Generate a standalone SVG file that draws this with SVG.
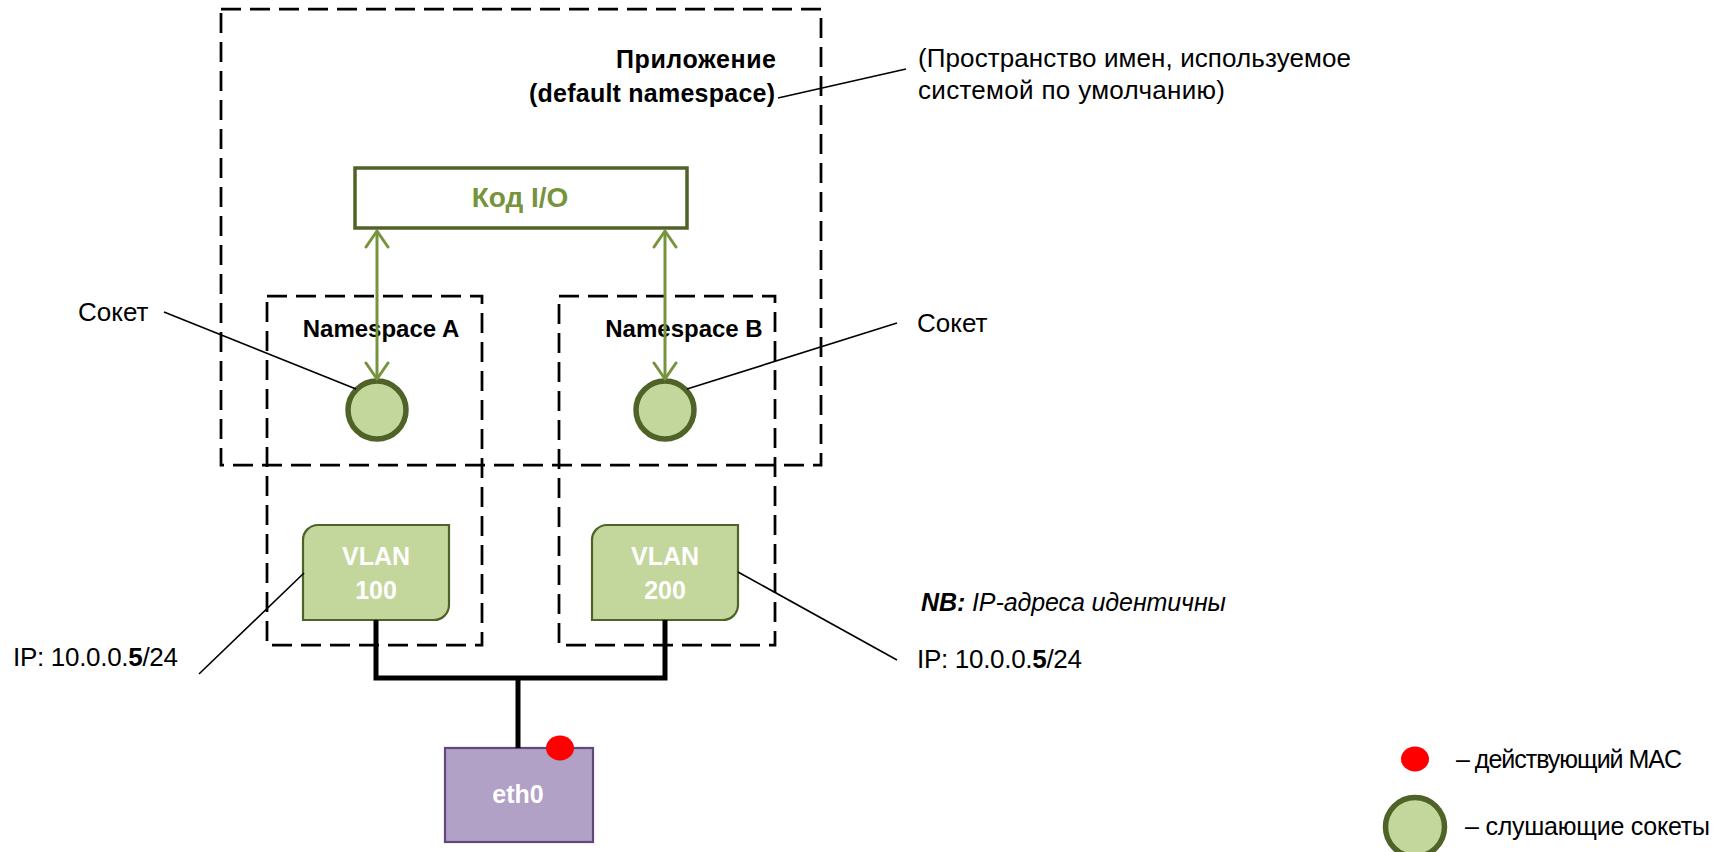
<svg xmlns="http://www.w3.org/2000/svg" width="1719" height="852" viewBox="0 0 1719 852">
  <style>
    text { font-family: "Liberation Sans", Arial, sans-serif; }
    .lbl { font-size: 26px; fill: #000; }
    .nsl { font-size: 24px; font-weight: bold; fill: #000; text-anchor: middle; }
    .bold { font-weight: bold; }
    .dash { fill: none; stroke: #000; stroke-width: 2.75; stroke-dasharray: 20 9; }
    .leader { fill: none; stroke: #000; stroke-width: 1.6; }
    .bus { fill: none; stroke: #000; stroke-width: 5; stroke-linejoin: miter; }
    .sock { fill: #C3D69B; stroke: #4F6228; stroke-width: 5.5; }
    .vlan { fill: #C3D69B; stroke: #4F6228; stroke-width: 2.2; }
    .wtxt { font-size: 25px; font-weight: bold; fill: #fff; text-anchor: middle; }
    .io { fill: none; stroke: #77933C; stroke-width: 3; marker-start: url(#vhead); marker-end: url(#vhead); }
  </style>
  <defs>
    <marker id="vhead" viewBox="0 0 20 26" refX="18" refY="13" markerWidth="20" markerHeight="26" markerUnits="userSpaceOnUse" orient="auto-start-reverse">
      <path d="M2,2 L18,13 L2,24" fill="none" stroke="#77933C" stroke-width="3" stroke-linecap="round" stroke-linejoin="round"/>
    </marker>
  </defs>

  <rect width="1719" height="852" fill="#fff"/>

  <!-- namespace containers -->
  <g id="ns-default">
    <rect class="dash" x="221" y="9" width="600" height="456"/>
    <text x="776" y="68" text-anchor="end" font-size="25" font-weight="bold" textLength="160">Приложение</text>
    <text x="775" y="102" text-anchor="end" font-size="25" font-weight="bold" textLength="246">(default namespace)</text>
  </g>
  <g id="ns-a">
    <rect class="dash" x="267" y="296" width="215" height="349"/>
    <text class="nsl" x="381" y="337">Namespace A</text>
  </g>
  <g id="ns-b">
    <rect class="dash" x="559" y="296" width="216" height="349"/>
    <text class="nsl" x="684" y="337">Namespace B</text>
  </g>

  <!-- application I/O code -->
  <g id="io-code">
    <rect x="355" y="168" width="332" height="60" fill="#fff" stroke="#4F6228" stroke-width="3.5"/>
    <text x="520" y="207" text-anchor="middle" font-size="28" font-weight="bold" fill="#77933C">Код I/O</text>
  </g>

  <!-- sockets -->
  <g id="socket-a"><circle class="sock" cx="377" cy="410" r="29"/></g>
  <g id="socket-b"><circle class="sock" cx="665" cy="410" r="29"/></g>

  <!-- VLAN interfaces -->
  <g id="vlan-100">
    <path class="vlan" d="M318,525 H449 V605 A15,15 0 0 1 434,620 H303 V540 A15,15 0 0 1 318,525 Z"/>
    <text class="wtxt" x="376" y="565">VLAN</text>
    <text class="wtxt" x="376" y="599">100</text>
  </g>
  <g id="vlan-200">
    <path class="vlan" d="M607,525 H738 V605 A15,15 0 0 1 723,620 H592 V540 A15,15 0 0 1 607,525 Z"/>
    <text class="wtxt" x="665" y="565">VLAN</text>
    <text class="wtxt" x="665" y="599">200</text>
  </g>

  <!-- physical interface -->
  <g id="eth0">
    <rect x="445" y="748" width="148" height="94" fill="#B2A1C7" stroke="#5F497A" stroke-width="2.2"/>
    <text class="wtxt" x="518" y="803">eth0</text>
    <ellipse cx="560" cy="748" rx="14" ry="12.5" fill="#FF0000"/>
  </g>

  <!-- connectors -->
  <g id="connectors">
    <line class="io" x1="377" y1="231" x2="377" y2="379"/>
    <line class="io" x1="665" y1="231" x2="665" y2="379"/>
    <path class="bus" d="M376,620 V678 H665 V620"/>
    <line class="bus" x1="518" y1="678" x2="518" y2="748"/>
  </g>

  <!-- callouts -->
  <g id="callouts">
    <line class="leader" x1="778" y1="98" x2="906" y2="69"/>
    <text class="lbl" x="918" y="67" textLength="433">(Пространство имен, используемое</text>
    <text class="lbl" x="918" y="99" textLength="307">системой по умолчанию)</text>

    <line class="leader" x1="164" y1="312" x2="356" y2="389"/>
    <text class="lbl" x="78" y="321">Сокет</text>

    <line class="leader" x1="897" y1="323" x2="687" y2="389"/>
    <text class="lbl" x="917" y="332">Сокет</text>

    <line class="leader" x1="199" y1="674" x2="304" y2="573"/>
    <text class="lbl" x="13" y="666" textLength="165">IP: 10.0.0.<tspan class="bold">5</tspan>/24</text>

    <line class="leader" x1="738" y1="572" x2="897" y2="660"/>
    <text class="lbl" x="917" y="668" textLength="165">IP: 10.0.0.<tspan class="bold">5</tspan>/24</text>

    <text x="921" y="611" font-size="25" font-style="italic" textLength="305"><tspan class="bold">NB:</tspan> IP-адреса идентичны</text>
  </g>

  <!-- legend -->
  <g id="legend">
    <ellipse cx="1415" cy="759" rx="14" ry="12.5" fill="#FF0000"/>
    <text x="1456" y="768" font-size="25" textLength="226">– действующий MAC</text>
    <circle class="sock" cx="1415" cy="827" r="29.5" stroke-width="6"/>
    <text x="1465" y="835" font-size="25" textLength="245">– слушающие сокеты</text>
  </g>
</svg>
